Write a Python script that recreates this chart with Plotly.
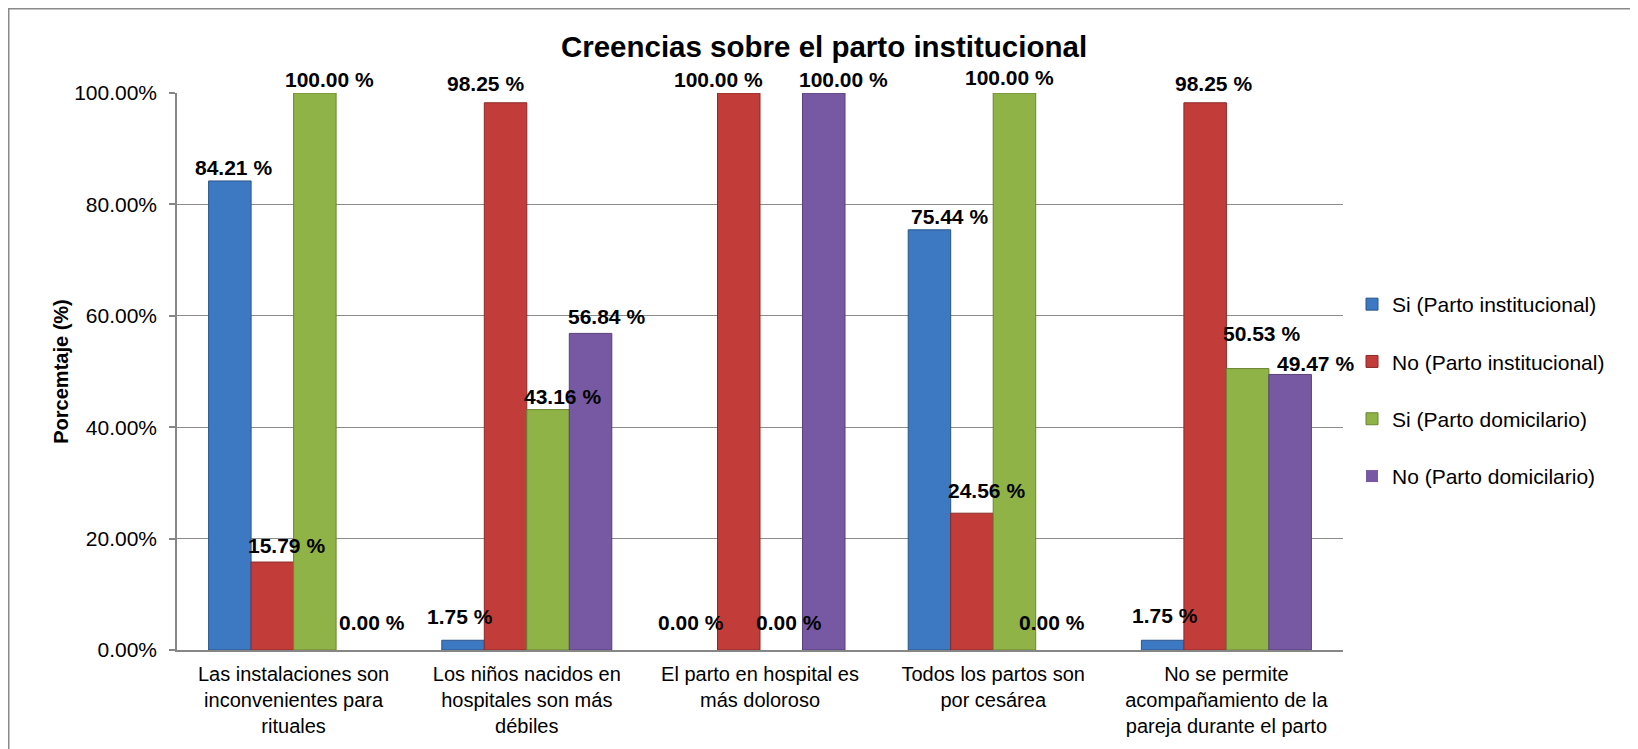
import plotly.graph_objects as go

# ---- data ----
categories = [
    "Las instalaciones son<br>inconvenientes para<br>rituales",
    "Los niños nacidos en<br>hospitales son más<br>débiles",
    "El parto en hospital es<br>más doloroso",
    "Todos los partos son<br>por cesárea",
    "No se permite<br>acompañamiento de la<br>pareja durante el parto",
]
series_names = [
    "Si (Parto institucional)",
    "No (Parto institucional)",
    "Si (Parto domicilario)",
    "No (Parto domicilario)",
]
si_institucional = [84.21, 1.75, 0.00, 75.44, 1.75]
no_institucional = [15.79, 98.25, 100.00, 24.56, 98.25]
si_domicilario = [100.00, 43.16, 0.00, 100.00, 50.53]
no_domicilario = [0.00, 56.84, 100.00, 0.00, 49.47]
y_ticks = [0, 20, 40, 60, 80, 100]

series_values = [si_institucional, no_institucional, si_domicilario, no_domicilario]

# ---- styles ----
fill_colors = ["#3D78C2", "#C23C39", "#8FB346", "#7759A3"]
edge_colors = ["#2A5689", "#8C2A28", "#6A8533", "#574178"]
FONT = "Liberation Sans, Arial, sans-serif"
BARGAP = 0.271
W, H = 1630, 741          # page body has an 8px margin
PL, PR, PT, PB = 169, 1335, 85, 642   # plot area in figure pixels
# label nudges in pixels (manual placement as in the original chart)
LABEL_DX = [
    [4, -3, -5, 20, 2],
    [14, -20, -20, 15, 8],
    [15, 14, 8, -5, 14],
    [15, 16, 20, -5, 25],
]
LABEL_DY = [
    [0, 10, 14, 0, 11],
    [3, 6, 0, 9, 6],
    [0, 0, 14, 2, 22],
    [14, 3, 0, 14, -3],
]

x_pos = list(range(len(categories)))
fig = go.Figure()
for j, (name, vals) in enumerate(zip(series_names, series_values)):
    fig.add_trace(go.Bar(
        x=x_pos, y=vals, name=name, legendgroup=name,
        marker=dict(color=fill_colors[j],
                    line=dict(color=edge_colors[j],
                              width=[1 if v > 0 else 0 for v in vals])),
    ))

bw = (1 - BARGAP) / len(series_values)
annotations = []
for j, vals in enumerate(series_values):
    for i, v in enumerate(vals):
        annotations.append(dict(
            x=i + (j - 1.5) * bw, y=v, xref="x", yref="y",
            text=f"{v:.2f} %", showarrow=False,
            xanchor="center", yanchor="bottom",
            xshift=LABEL_DX[j][i], yshift=LABEL_DY[j][i],
            font=dict(family=FONT, size=21, color="#000000", weight="bold"),
        ))

pw, ph = PR - PL, PB - PT
fig.update_layout(
    width=W, height=H,
    margin=dict(l=PL, r=W - PR, t=PT, b=H - PB, autoexpand=False),
    paper_bgcolor="white", plot_bgcolor="white",
    barmode="group", bargap=BARGAP, bargroupgap=0,
    font=dict(family=FONT, color="#000000"),
    title=dict(
        text="<b>Creencias sobre el parto institucional</b>",
        x=816 / W, xref="container", xanchor="center",
        y=1 - 39 / H, yref="container", yanchor="middle",
        font=dict(family=FONT, size=29.5, color="#000000"),
    ),
    xaxis=dict(
        tickmode="array", tickvals=x_pos, ticktext=categories,
        range=[-0.5, len(categories) - 0.5],
        showline=True, linecolor="#868686", linewidth=1.5,
        showgrid=False, ticks="", tickangle=0,
        ticklabelstandoff=5,
        tickfont=dict(family=FONT, size=20, color="#000000"),
    ),
    yaxis=dict(
        range=[0, 100], tickmode="array", tickvals=y_ticks,
        ticktext=[f"{t:.2f}%" for t in y_ticks],
        showline=True, linecolor="#868686", linewidth=1.5,
        showgrid=True, gridcolor="#8C8C8C", gridwidth=1.2,
        ticks="outside", ticklen=6, tickcolor="#868686", tickwidth=1.5,
        ticklabelstandoff=8,
        tickfont=dict(family=FONT, size=21, color="#000000"),
        title=dict(text="<b>Porcemtaje (%)</b>", standoff=0,
                   font=dict(family=FONT, size=20, color="#000000")),
        zeroline=False,
    ),
    legend=dict(
        x=(1344 - PL) / pw, xanchor="left",
        y=(PB - 276) / ph, yanchor="top",
        font=dict(family=FONT, size=21, color="#000000"),
        tracegroupgap=27, traceorder="grouped",
        bgcolor="rgba(0,0,0,0)",
    ),
    annotations=annotations,
    shapes=[dict(
        type="rect", xref="paper", yref="paper",
        x0=(0.75 - PL) / pw, x1=1.5, y0=-0.5, y1=(PB - 0.75) / ph,
        line=dict(color="#8A8A8A", width=1.5), fillcolor="rgba(0,0,0,0)",
        layer="below",
    )],
)

fig.write_html("out.html")
